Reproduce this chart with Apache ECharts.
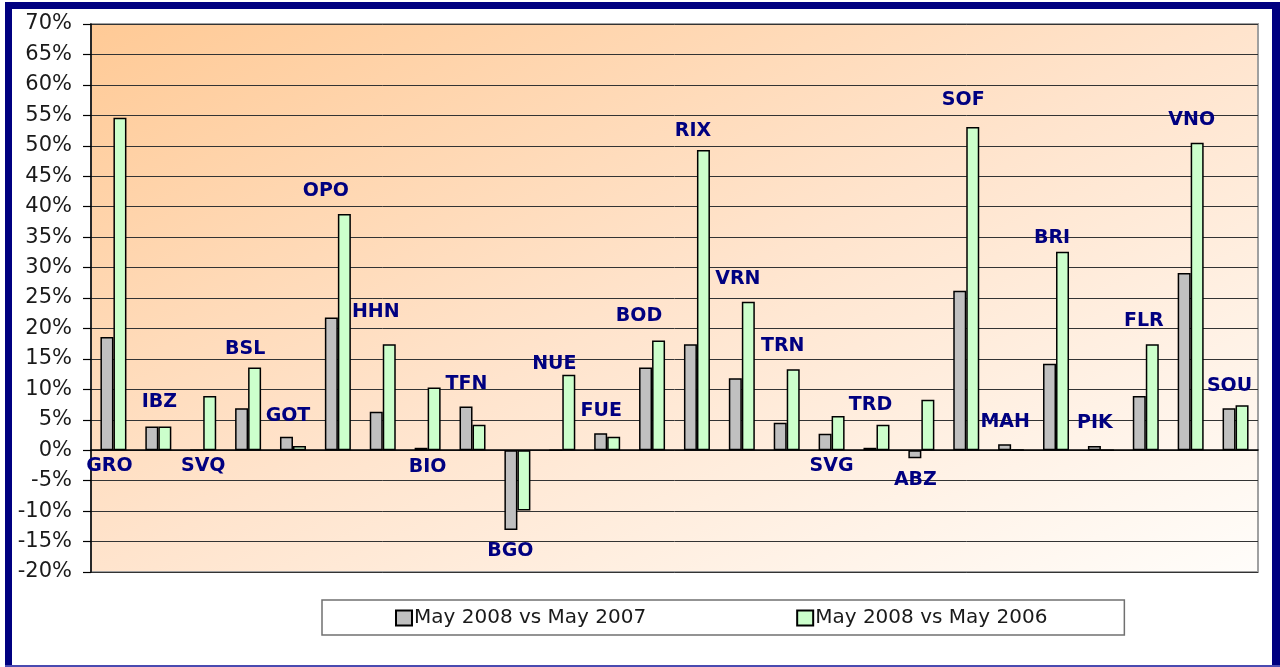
<!DOCTYPE html>
<html>
<head>
<meta charset="utf-8">
<script src="https://cdn.jsdelivr.net/npm/echarts@6/dist/echarts.min.js"></script>
<style>
  html, body { margin: 0; padding: 0; background: #ffffff; }
  #chart { width: 1280px; height: 667px; }
</style>
</head>
<body>
<div id="chart"></div>
<script>
// ---- data ----
const categories = ['GRO','IBZ','SVQ','BSL','GOT','OPO','HHN','BIO','TFN','BGO','NUE','FUE','BOD','RIX','VRN','TRN','SVG','TRD','ABZ','SOF','MAH','BRI','PIK','FLR','VNO','SOU'];
const seriesNames = ['May 2008 vs May 2007', 'May 2008 vs May 2006'];
const may08vs07 = [18.6, 3.9, 0, 6.9, 2.2, 21.8, 6.3, 0.4, 7.2, -13.1, 0, 2.8, 13.6, 17.4, 11.8, 4.5, 2.7, 0.4, -1.3, 26.2, 1.0, 14.2, 0.7, 8.9, 29.1, 6.9];
const may08vs06 = [54.6, 3.9, 8.9, 13.6, 0.7, 38.8, 17.4, 10.3, 4.2, -9.9, 12.4, 2.2, 18.0, 49.3, 24.4, 13.3, 5.6, 4.2, 8.3, 53.1, 0.1, 32.6, 0, 17.4, 50.5, 7.4];
const yMin = -20, yMax = 70, yStep = 5;

// ---- label placement (pixel offsets from each category's zero line; style only) ----
const labelOffsets = {
  GRO: [-4, 16], IBZ: [1, -48], SVQ: [0, 16], BSL: [-3, -101], GOT: [-5, -34],
  OPO: [-12, -259], HHN: [-7, -138], BIO: [0, 17], TFN: [-6, -66], BGO: [-7, 101],
  NUE: [-8, -86], FUE: [-6, -39], BOD: [-13, -134], RIX: [-4, -319], VRN: [-4, -171],
  TRN: [-4, -104], SVG: [0, 16], TRD: [-6, -45], ABZ: [-6, 30], SOF: [-3, -350],
  MAH: [-6, -28], BRI: [-4, -212], PIK: [-6, -27], FLR: [-2, -129], VNO: [1, -330],
  SOU: [-6, -64]
};

const chart = echarts.init(document.getElementById('chart'), null, { renderer: 'canvas' });
const FONT = 'DejaVu Sans';

const labelData = categories.map(function (c) {
  return {
    value: [c, 0],
    label: { offset: labelOffsets[c] }
  };
});

const option = {
  animation: false,
  backgroundColor: '#ffffff',
  graphic: [
    { type: 'rect', shape: { x: 5, y: 2, width: 1275, height: 7 }, style: { fill: '#000080' }, silent: true },
    { type: 'rect', shape: { x: 5, y: 2, width: 7, height: 665 }, style: { fill: '#000080' }, silent: true },
    { type: 'rect', shape: { x: 1272, y: 2, width: 8, height: 665 }, style: { fill: '#000080' }, silent: true },
    { type: 'rect', shape: { x: 5, y: 665, width: 1275, height: 2 }, style: { fill: '#4a4ab0' }, silent: true }
  ],
  grid: {
    left: 91, right: 22, top: 24, bottom: 95,
    show: true,
    borderColor: '#a0a0a0',
    borderWidth: 2,
    backgroundColor: new echarts.graphic.LinearGradient(91, 24, 513, 922, [
      { offset: 0, color: '#FFCA96' },
      { offset: 0.5, color: '#FFE4CD' },
      { offset: 1, color: '#FFFDFA' }
    ], true)
  },
  legend: {
    data: seriesNames,
    left: 322,
    top: 600,
    width: 803,
    padding: [8, 77, 7, 73],
    itemGap: 150,
    itemWidth: 16,
    itemHeight: 15,
    icon: 'rect',
    borderColor: '#707070',
    borderWidth: 1.5,
    backgroundColor: '#ffffff',
    textStyle: { fontFamily: FONT, fontSize: 20, color: '#1a1a1a', padding: [0, 0, 0, -3], lineHeight: 17 }
  },
  xAxis: {
    type: 'category',
    data: categories,
    axisLine: { show: true, onZero: true, lineStyle: { color: '#000000', width: 1.5 } },
    axisTick: { show: false },
    axisLabel: { show: false },
    splitLine: { show: false }
  },
  yAxis: {
    type: 'value',
    min: yMin,
    max: yMax,
    interval: yStep,
    axisLine: { show: true, lineStyle: { color: '#000000', width: 1.5 } },
    axisTick: { show: true, length: 8, inside: false, lineStyle: { color: '#000000', width: 1.2 } },
    axisLabel: {
      margin: 19,
      fontFamily: FONT,
      fontSize: 21,
      color: '#1a1a1a',
      formatter: function (v) { return v + '%'; }
    },
    splitLine: { show: true, lineStyle: { color: '#333333', width: 1 } }
  },
  series: [
    {
      name: seriesNames[0],
      type: 'bar',
      data: may08vs07,
      barWidth: 13,
      barGap: '0%',
      itemStyle: { color: '#C0C0C0', borderColor: '#000000', borderWidth: 1.5 }
    },
    {
      name: seriesNames[1],
      type: 'bar',
      data: may08vs06,
      barWidth: 13,
      itemStyle: { color: '#CCFFCC', borderColor: '#000000', borderWidth: 1.5 }
    },
    {
      name: 'labels',
      type: 'scatter',
      data: labelData,
      symbolSize: 0,
      silent: true,
      z: 10,
      itemStyle: { opacity: 1 },
      label: {
        show: true,
        position: 'inside',
        opacity: 1,
        formatter: function (p) { return p.value[0]; },
        fontFamily: FONT,
        fontWeight: 'bold',
        fontSize: 19,
        color: '#000080'
      }
    }
  ]
};

chart.setOption(option);
</script>
</body>
</html>
